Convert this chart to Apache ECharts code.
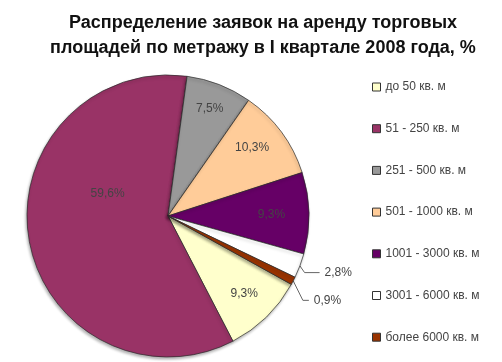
<!DOCTYPE html>
<html>
<head>
<meta charset="utf-8">
<script src="https://cdn.jsdelivr.net/npm/echarts@6/dist/echarts.min.js"></script>
<style>html,body{margin:0;padding:0;background:#fff;}#c{width:502px;height:362px;}</style>
</head>
<body>
<div id="c"></div>
<script>
var categories = ['до 50 кв. м', '51 - 250 кв. м', '251 - 500 кв. м', '501 - 1000 кв. м', '1001 - 3000 кв. м', '3001 - 6000 кв. м', 'более 6000 кв. м'];
var values = [9.3, 59.6, 7.5, 10.3, 9.3, 2.8, 0.9];
var colors = ['#FFFFCC', '#993366', '#999999', '#FFCC99', '#660066', '#FFFFFF', '#993300'];
var outsideIdx = [5, 6];

// label nudges (px), mimicking the original placement
var labelNudge = {0: [25, 25], 1: [12, -35], 2: [15, -39], 3: [25, -25], 4: [30, 0], 5: [0, 5], 6: [-1, 14]};

var chart = echarts.init(document.getElementById('c'), null, {renderer: 'canvas'});
var fmt = function (v) { return v.toFixed(1).replace('.', ',') + '%'; };

var data = categories.map(function (name, i) {
  var outside = outsideIdx.indexOf(i) >= 0;
  return {
    name: name,
    value: values[i],
    itemStyle: {color: colors[i]},
    label: outside ? {position: 'outside'} : {position: 'inside'},
    labelLine: outside ? {show: true, length: i === 5 ? 5 : 12, length2: i === 5 ? 15 : 6} : {show: false}
  };
});

chart.setOption({
  animation: false,
  title: {
    text: 'Распределение заявок на аренду торговых\nплощадей по метражу в I квартале 2008 года, %',
    left: 258,
    top: 6,
    textAlign: 'center',
    textStyle: {fontFamily: 'Liberation Sans', fontWeight: 'bold', fontSize: 18, lineHeight: 25, color: '#111'}
  },
  legend: {
    orient: 'vertical',
    left: 367,
    top: 75,
    itemWidth: 8,
    itemHeight: 8,
    itemGap: 27.7,
    icon: 'rect',
    itemStyle: {borderColor: '#333', borderWidth: 1},
    textStyle: {fontFamily: 'Liberation Sans', fontSize: 12, color: '#444', lineHeight: 14},
    data: categories
  },
  series: [{
    type: 'pie',
    center: [168, 216],
    radius: 141,
    startAngle: -29,
    clockwise: true,
    avoidLabelOverlap: false,
    itemStyle: {borderColor: '#2a2a2a', borderWidth: 0.7, shadowBlur: 3, shadowColor: 'rgba(0,0,0,0.3)', shadowOffsetX: -1, shadowOffsetY: 2},
    label: {
      formatter: function (p) { return fmt(p.value); },
      fontFamily: 'Liberation Sans',
      fontSize: 12,
      color: '#444'
    },
    labelLine: {lineStyle: {color: '#666', width: 1}},
    labelLayout: function (p) {
      var n = labelNudge[p.dataIndex];
      if (!n) return {};
      var res = {dx: n[0], dy: n[1]};
      var pts = p.labelLinePoints;
      if (pts && outsideIdx.indexOf(p.dataIndex) >= 0) {
        res.labelLinePoints = [
          [pts[0][0], pts[0][1]],
          [pts[1][0] + n[0], pts[1][1] + n[1]],
          [pts[2][0] + n[0], pts[2][1] + n[1]]
        ];
      }
      return res;
    },
    emphasis: {disabled: true},
    data: data
  }]
});
</script>
</body>
</html>
